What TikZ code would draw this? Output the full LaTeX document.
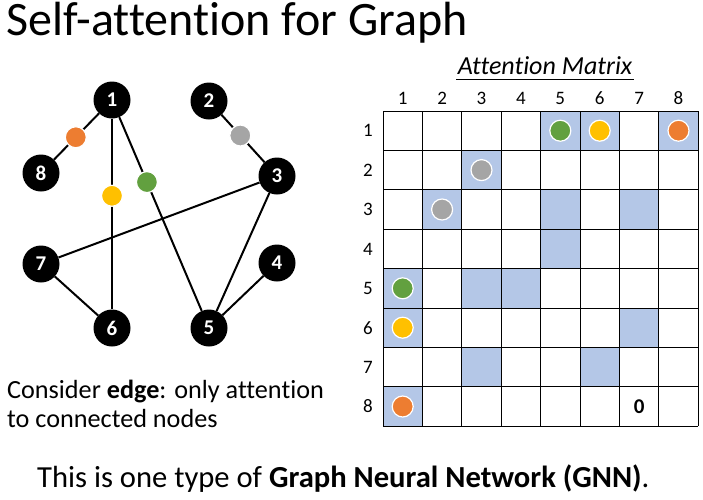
\documentclass[tikz,border=0pt]{standalone}
\usepackage{fontspec}
\setmainfont{Carlito}[Ligatures=NoCommon]
\usetikzlibrary{calc}
\definecolor{cellblue}{HTML}{B4C7E7}
\definecolor{dgreen}{HTML}{62A03F}
\definecolor{dyellow}{HTML}{FFC000}
\definecolor{dorange}{HTML}{ED7D31}
\definecolor{dgrey}{HTML}{A5A5A5}
\tikzset{
  gnode/.style={circle, fill=black, text=white, minimum size=37pt, inner sep=0pt,
    font=\fontsize{21}{21}\selectfont\bfseries},
  dot/.style={circle, draw=white, line width=1.2pt, minimum size=21pt, inner sep=0pt},
  edge/.style={line width=2pt},
  lbl/.style={font=\fontsize{19}{19}\selectfont}
}
\begin{document}
\begin{tikzpicture}[x=1pt, y=-1pt]
\useasboundingbox (0,0) rectangle (703,499);
\node[anchor=base west, inner sep=0pt, font=\fontsize{48}{52}\selectfont] (title) at (6,35) {Self-attention for Graph};

% graph
\node[gnode] (n1) at (112,100) {1};
\node[gnode] (n2) at (209,101) {2};
\node[gnode] (n3) at (277,176) {3};
\node[gnode] (n4) at (277,263) {4};
\node[gnode] (n5) at (209,328) {5};
\node[gnode] (n6) at (112,328) {6};
\node[gnode] (n7) at (41,264) {7};
\node[gnode] (n8) at (41,173) {8};
\draw[edge] (n1) -- (n8);
\draw[edge] (n1) -- (n6);
\draw[edge] (n1) -- (n5);
\draw[edge] (n2) -- (n3);
\draw[edge] (n3) -- (n7);
\draw[edge] (n3) -- (n5);
\draw[edge] (n4) -- (n5);
\draw[edge] (n7) -- (n6);
\node[dot, fill=dorange] (e18) at ($(n1)!.51!(n8)$) {};
\node[dot, fill=dyellow] (e16) at ($(n1)!.42!(n6)$) {};
\node[dot, fill=dgreen] (e15) at ($(n1)!.36!(n5)$) {};
\node[dot, fill=dgrey] (e23) at ($(n2)!.46!(n3)$) {};

\node[anchor=base west, inner sep=0pt, align=left, font=\fontsize{26.2}{29}\selectfont] (note) at (7,427)
  {Consider \textbf{edge}: only attention\\to connected nodes};

% attention matrix
\node[inner sep=0pt, font=\fontsize{26}{26}\selectfont\itshape] (mtitle) at (545,66) {Attention Matrix};
\draw[line width=1pt] (456,79) -- (634,79);
\foreach \r/\c in {1/5,1/6,1/8,2/3,3/2,3/5,3/7,4/5,5/1,5/3,5/4,6/1,6/7,7/3,7/6,8/1}
  \fill[cellblue] ({383+(\c-1)*39.4},{111+(\r-1)*39.4}) rectangle +(39.4,39.4);
\foreach \i in {0,...,8}{
  \draw[line width=1pt] ({383+\i*39.4},111) -- ({383+\i*39.4},426.2);
  \draw[line width=1pt] (383,{111+\i*39.4}) -- (698.2,{111+\i*39.4});
}
\foreach \i in {1,...,8}{
  \node[lbl] (col\i) at ({383+(\i-.5)*39.4},98) {\i};
  \node[lbl] (row\i) at (368,{111+(\i-.5)*39.4}) {\i};
}
\foreach \r/\c/\col in {1/5/dgreen,1/6/dyellow,1/8/dorange,2/3/dgrey,3/2/dgrey,5/1/dgreen,6/1/dyellow,8/1/dorange}
  \node[dot, fill=\col] (m\r\c) at ({383+(\c-.5)*39.4},{111+(\r-.5)*39.4}) {};
\node[font=\fontsize{21}{21}\selectfont\bfseries] (zero) at ({383+6.5*39.4},{111+7.5*39.4}) {0};

\node[anchor=base west, inner sep=0pt, font=\fontsize{30.6}{31}\selectfont] (gnn) at (37,487)
  {This is one type of \textbf{Graph Neural Network (GNN)}.};
\end{tikzpicture}
\end{document}
